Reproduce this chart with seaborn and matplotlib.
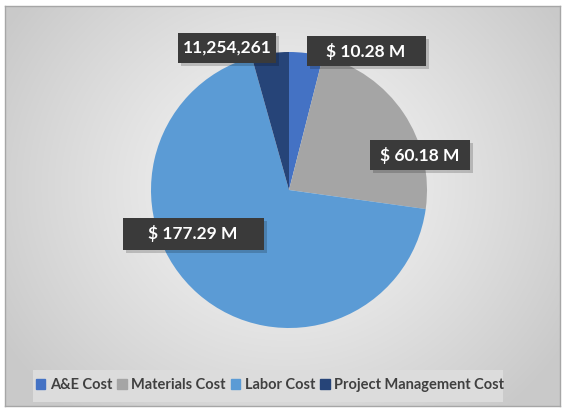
import numpy as np
import matplotlib
matplotlib.use("Agg")
import matplotlib.pyplot as plt
from matplotlib.patches import Rectangle
import seaborn as sns

categories = ["A&E Cost", "Materials Cost", "Labor Cost", "Project Management Cost"]
values = [10.28, 60.18, 177.29, 11.254261]
labels = ["$ 10.28 M", "$ 60.18 M", "$ 177.29 M", "11,254,261"]
colors = ["#4472C4", "#A5A5A5", "#5B9BD5", "#264478"]

sns.set_theme(style="white")
plt.rcParams["font.family"] = ["Lato", "DejaVu Sans"]

W, H = 566, 412
fig = plt.figure(figsize=(W / 100, H / 100), dpi=100)
fig.patch.set_facecolor("white")

# background radial gradient
bg = fig.add_axes([5 / W, 6 / H, 555 / W, 400 / H])
yy, xx = np.mgrid[0:400, 0:555]
r = np.sqrt(((xx - 280) / 330.0) ** 2 + ((yy - 180) / 300.0) ** 2)
r = np.clip(r, 0, 1)
c0, c1 = 0.965, 0.79
img = c0 + (c1 - c0) * r ** 1.2
bg.imshow(np.dstack([img, img, img]), aspect="auto", extent=[0, 1, 0, 1], origin="upper")
bg.set_xticks([]); bg.set_yticks([])
for s in bg.spines.values():
    s.set_color("#a6a6a6"); s.set_linewidth(1)

# pie
cx, cy, rad = 289, 190, 138
ax = fig.add_axes([(cx - rad) / W, (H - cy - rad) / H, 2 * rad / W, 2 * rad / H])
ax.set_facecolor("none")
ax.pie(values, colors=colors, startangle=90, counterclock=False, radius=1,
       wedgeprops=dict(linewidth=0))
ax.set_xlim(-1, 1); ax.set_ylim(-1, 1)
ax.set_aspect("auto")
ax.axis("off")

# data labels (pixel centers & box sizes)
label_pos = [(366, 51, 119, 30), (420, 155, 100, 30), (193, 234, 141, 32), (227, 48, 98, 30)]
for lab, (px, py, bw, bh) in zip(labels, label_pos):
    x0 = (px - bw / 2) / W
    y0 = (H - py - bh / 2) / H
    fig.patches.append(Rectangle((x0 + 3 / W, y0 - 3 / H), bw / W, bh / H, transform=fig.transFigure,
                                 facecolor="#000000", alpha=0.18, edgecolor="none"))
    fig.patches.append(Rectangle((x0, y0), bw / W, bh / H, transform=fig.transFigure,
                                 facecolor="#3a3a3a", edgecolor="none"))
    fig.text(px / W, (H - py) / H, lab, color="white", fontsize=12.5, fontweight="bold",
             ha="center", va="center")

# legend
fig.patches.append(Rectangle((33 / W, (H - 402) / H), 470 / W, 32 / H, transform=fig.transFigure,
                             facecolor="#dcdcdc", edgecolor="none"))
handles = [plt.Rectangle((0, 0), 1, 1, color=c) for c in colors]
leg = fig.legend(handles, categories, loc="center", bbox_to_anchor=(270 / W, (H - 385) / H),
                 ncol=4, frameon=False, handlelength=0.65, handleheight=0.65,
                 handletextpad=0.3, columnspacing=0.35,
                 prop=dict(family="Lato", weight="bold", size=10.5))
for t in leg.get_texts():
    t.set_color("#404040")

fig.savefig("out.png", dpi=100)
